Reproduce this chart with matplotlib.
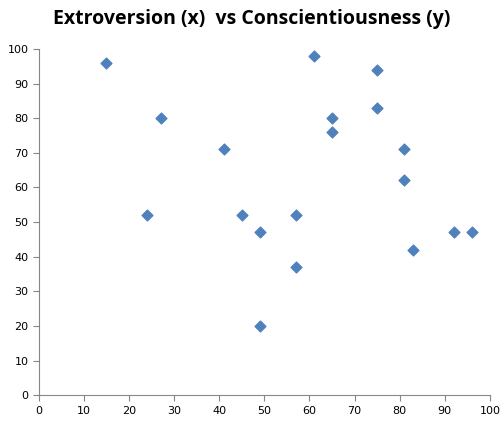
import matplotlib
matplotlib.use("Agg")
import matplotlib.pyplot as plt

extroversion = [15, 24, 27, 41, 45, 49, 49, 57, 57, 61, 65, 65, 75, 75, 81, 81, 83, 92, 96]
conscientiousness = [96, 52, 80, 71, 52, 47, 20, 52, 37, 98, 80, 76, 94, 83, 71, 62, 42, 47, 47]

fig = plt.figure(figsize=(5.04, 4.25), dpi=100)
ax = fig.add_axes([0.077, 0.07, 0.895, 0.815])
ax.scatter(extroversion, conscientiousness, marker="D", s=30, color="#4F81BD", zorder=3)
ax.set_xlim(0, 100)
ax.set_ylim(0, 100)
ax.set_xticks(range(0, 101, 10))
ax.set_yticks(range(0, 101, 10))
ax.tick_params(labelsize=8, length=4, color="#868686")
for s in ["top", "right"]:
    ax.spines[s].set_visible(False)
for s in ["left", "bottom"]:
    ax.spines[s].set_color("#868686")
fig.text(0.5, 0.955, "Extroversion (x)  vs Conscientiousness (y)", ha="center", va="center",
         fontsize=14, fontweight="bold", family="Open Sans")
fig.savefig("out.png", dpi=100)
